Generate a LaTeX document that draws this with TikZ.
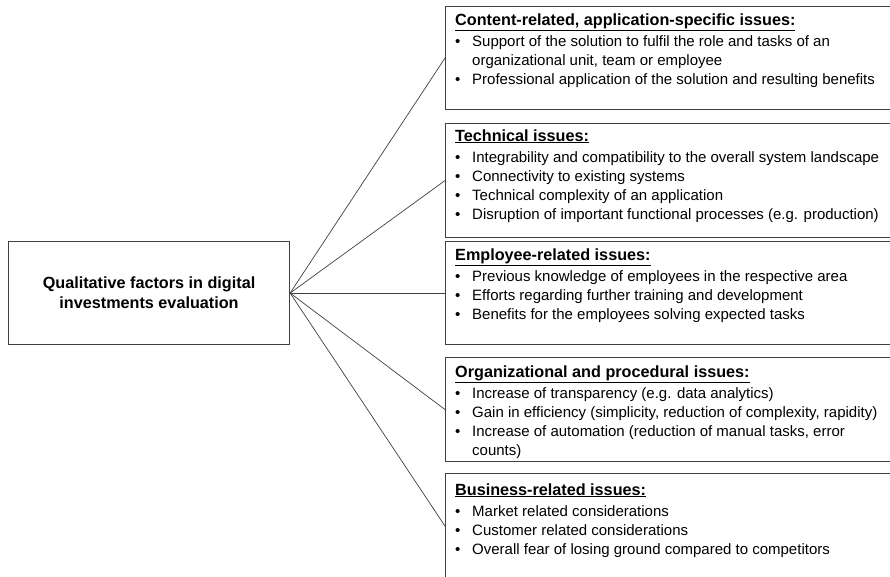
\documentclass[tikz,border=0pt]{standalone}
\usepackage{fontspec}
\setmainfont{Liberation Sans}
\usepackage{array}
\definecolor{edge}{HTML}{404040}
\tikzset{
  issuebox/.style={draw=edge, line width=1.1pt, rectangle, inner sep=0pt,
    minimum width=460pt, anchor=north west},
  issuetext/.style={anchor=north west, inner sep=0pt, align=left,
    font=\fontsize{15}{19}\selectfont},
  mainbox/.style={draw=edge, line width=1.1pt, rectangle, inner sep=0pt,
    minimum width=281pt, minimum height=103pt, anchor=north west,
    align=center, font=\fontsize{16.2}{20}\selectfont\bfseries},
  link/.style={draw=edge, line width=0.7pt}
}
\newcommand{\hdr}[1]{\multicolumn{2}{@{}l@{}}{\fontsize{16.2}{19}\selectfont\bfseries\underline{#1}}\\[2pt]}
\newcommand{\itm}[1]{\textbullet & #1\\}
\newcommand{\cnt}[1]{ & #1\\}
\newenvironment{issuelist}{\begin{tabular}{@{}p{17pt}@{}l@{}}}{\end{tabular}}
\begin{document}
\begin{tikzpicture}[x=1pt,y=-1pt]
\useasboundingbox (0,0) rectangle (890,576);
\clip (0,0) rectangle (890,576);
\node[mainbox] (q) at (8,241) {Qualitative factors in digital\\investments evaluation};

\node[issuebox, minimum height=103pt] (b1) at (445,6) {};
\node[issuebox, minimum height=114pt] (b2) at (445,123) {};
\node[issuebox, minimum height=103pt] (b3) at (445,241) {};
\node[issuebox, minimum height=104pt] (b4) at (445,357) {};
\node[issuebox, minimum height=105pt] (b5) at (445,473) {};

\node[issuetext] (t1) at (455,11.5) {\begin{issuelist}
\hdr{Content-related, application-specific issues:}
\itm{Support of the solution to fulfil the role and tasks of an}
\cnt{organizational unit, team or employee}
\itm{Professional application of the solution and resulting benefits}
\end{issuelist}};

\node[issuetext] (t2) at (455,127.5) {\begin{issuelist}
\hdr{Technical issues:}
\itm{Integrability and compatibility to the overall system landscape}
\itm{Connectivity to existing systems}
\itm{Technical complexity of an application}
\itm{Disruption of important functional processes (e.g. production)}
\end{issuelist}};

\node[issuetext] (t3) at (455,246.5) {\begin{issuelist}
\hdr{Employee-related issues:}
\itm{Previous knowledge of employees in the respective area}
\itm{Efforts regarding further training and development}
\itm{Benefits for the employees solving expected tasks}
\end{issuelist}};

\node[issuetext] (t4) at (455,363.5) {\begin{issuelist}
\hdr{Organizational and procedural issues:}
\itm{Increase of transparency (e.g. data analytics)}
\itm{Gain in efficiency (simplicity, reduction of complexity, rapidity)}
\itm{Increase of automation (reduction of manual tasks, error}
\cnt{counts)}
\end{issuelist}};

\node[issuetext] (t5) at (455,481.5) {\begin{issuelist}
\hdr{Business-related issues:}
\itm{Market related considerations}
\itm{Customer related considerations}
\itm{Overall fear of losing ground compared to competitors}
\end{issuelist}};

\foreach \b in {b1,b2,b3,b4,b5}{
  \draw[link] (q.east) -- (\b.west);
}
\end{tikzpicture}
\end{document}
